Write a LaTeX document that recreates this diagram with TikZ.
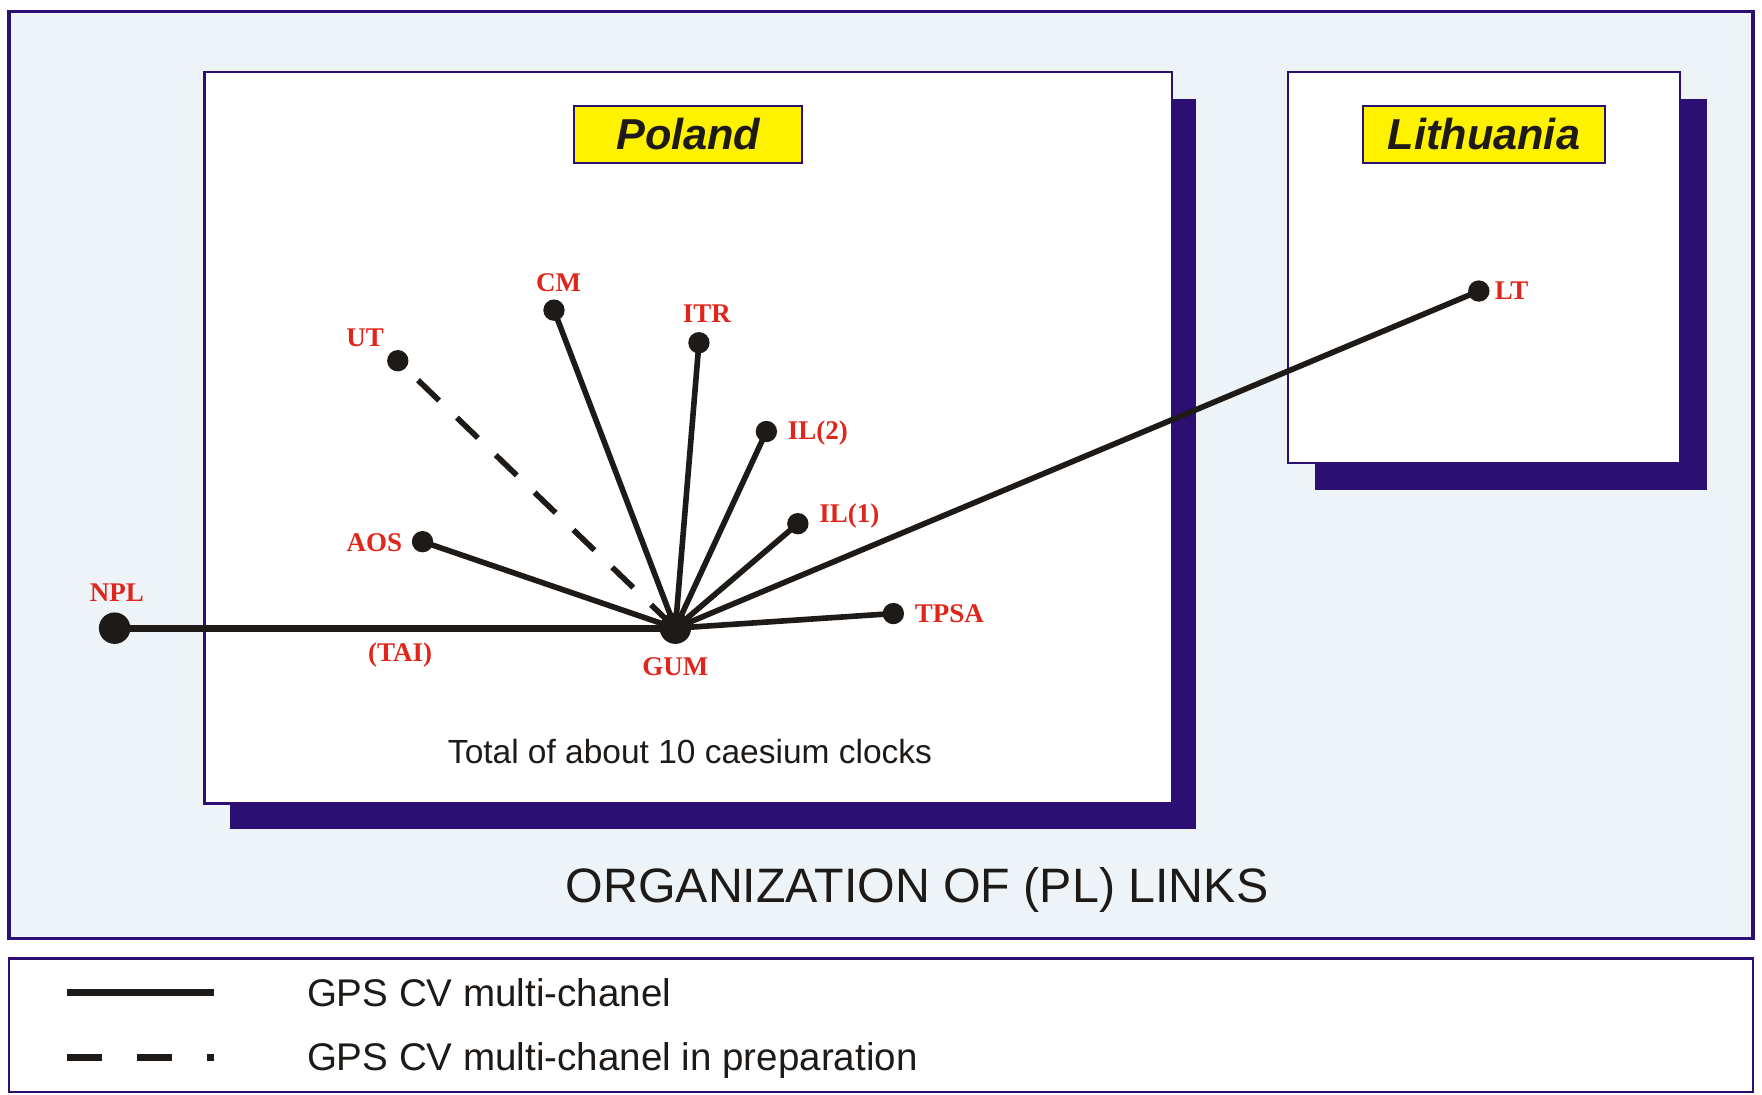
\documentclass[tikz,border=0pt]{standalone}
\usepackage{fontspec}
\setmainfont{Liberation Serif}
\setsansfont{Liberation Sans}
\definecolor{navy}{HTML}{2B0F73}
\definecolor{panelbg}{HTML}{EEF3F7}
\definecolor{lblred}{HTML}{E0251B}
\definecolor{ink}{HTML}{1E1A17}
\begin{document}
\begin{tikzpicture}[x=1pt,y=-1pt,
  dot/.style={circle,fill=ink,inner sep=0pt,minimum size=19pt},
  bigdot/.style={circle,fill=ink,inner sep=0pt,minimum size=28pt},
  sitelbl/.style={text=lblred,font=\fontsize{24}{24}\selectfont\bfseries,inner sep=0pt},
  link/.style={line width=5pt,draw=ink},
  planned/.style={line width=5pt,draw=ink,dash pattern=on 26pt off 22pt,dash phase=23pt},
  countrybox/.style={draw=navy,line width=2pt,fill=white},
  shadowbox/.style={fill=navy},
  titlebox/.style={draw=navy,line width=2pt,fill=yellow,inner sep=0pt,
    font=\sffamily\bfseries\itshape\fontsize{38.5}{38.5}\selectfont,text=ink,minimum height=51pt},
  plaintext/.style={text=ink,inner sep=0pt,font=\sffamily}]
\useasboundingbox (0,0) rectangle (1568,974);
\fill[white] (0,0) rectangle (1568,974);
% panels
\draw[navy,line width=3pt,fill=panelbg] (8,10) rectangle (1560,835);
\draw[navy,line width=2pt,fill=white] (8,853) rectangle (1560,972);
% Poland box
\fill[shadowbox] (205,88) rectangle (1064,738);
\draw[countrybox] (182,64) rectangle (1043,715);
% Lithuania box
\fill[shadowbox] (1170,88) rectangle (1519,436);
\draw[countrybox] (1146,64) rectangle (1495,412);
% titles
\node[titlebox,minimum width=203pt] (poland) at (612.5,119.5) {Poland};
\node[titlebox,minimum width=215pt] (lithuania) at (1320.5,119.5) {Lithuania};
% texts
\node[plaintext,font=\sffamily\fontsize{29.8}{29.8}\selectfont,anchor=base] (total) at (614,679) {Total of about 10 caesium clocks};
\node[plaintext,font=\sffamily\fontsize{43}{43}\selectfont,anchor=base] (heading) at (816,803) {ORGANIZATION OF (PL) LINKS};
% dots
\node[bigdot] (npl) at (102,559) {};
\node[bigdot] (gum) at (601,559) {};
\node[dot] (ut) at (354,321) {};
\node[dot] (cm) at (493,276) {};
\node[dot] (itr) at (622,305) {};
\node[dot] (il2) at (682,384) {};
\node[dot] (il1) at (710,466) {};
\node[dot] (aos) at (376,482) {};
\node[dot] (tpsa) at (795,546) {};
\node[dot] (lt) at (1316,259) {};
% labels
\node[sitelbl] (nplL) at (104,527) {NPL};
\node[sitelbl] (gumL) at (601,593) {GUM};
\node[sitelbl] (utL) at (325,301) {UT};
\node[sitelbl] (cmL) at (497,252) {CM};
\node[sitelbl] (itrL) at (629,279) {ITR};
\node[sitelbl,anchor=west] (il2L) at (701,385) {IL(2)};
\node[sitelbl,anchor=west] (il1L) at (729,459) {IL(1)};
\node[sitelbl,anchor=east] (aosL) at (358,483) {AOS};
\node[sitelbl,anchor=west] (tpsaL) at (814,546) {TPSA};
\node[sitelbl,anchor=west] (ltL) at (1330,259) {LT};
\node[sitelbl] (taiL) at (356,583) {(TAI)};
% links
\draw[link,line width=6pt] (npl.center) -- (gum.center);
\draw[planned] (ut.center) -- (gum.center);
\foreach \s in {cm,itr,il2,il1,aos,tpsa,lt}
  \draw[link] (gum.center) -- (\s.center);
% legend
\coordinate (ls1) at (60,883);
\coordinate (ls2) at (190,883);
\coordinate (ld1) at (60,941);
\coordinate (ld2) at (190,941);
\draw[ink,line width=6pt] (ls1) -- (ls2);
\draw[ink,line width=6pt,dash pattern=on 31pt off 31pt] (ld1) -- (ld2);
\node[plaintext,font=\sffamily\fontsize{34.3}{34.3}\selectfont,anchor=base west] (leg1) at (273,896) {GPS CV multi-chanel};
\node[plaintext,font=\sffamily\fontsize{34.3}{34.3}\selectfont,anchor=base west] (leg2) at (273,953) {GPS CV multi-chanel in preparation};
\end{tikzpicture}
\end{document}
